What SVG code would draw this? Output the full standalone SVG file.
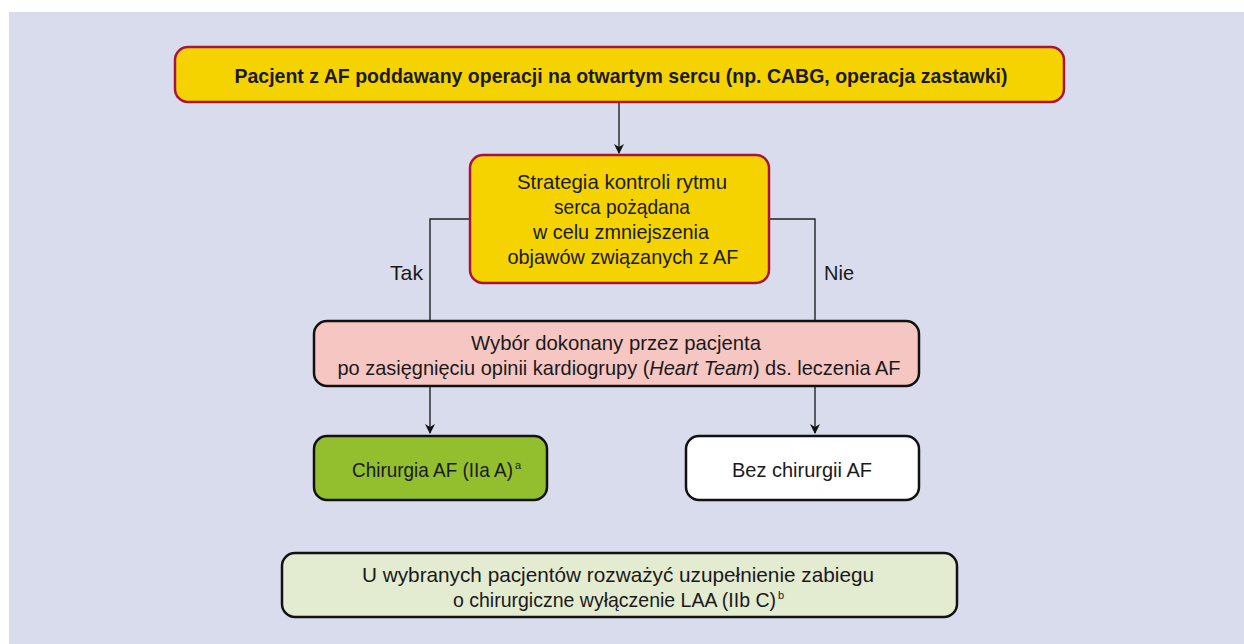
<svg xmlns="http://www.w3.org/2000/svg" width="1244" height="644" viewBox="0 0 1244 644">
<defs>
<style>
text{font-family:"Liberation Sans",Arial,sans-serif;font-size:21px;fill:#1a1a1a}
.b{font-weight:bold}
.c{text-anchor:middle}
.sup{font-size:11px}
.red{stroke:#a8143c;stroke-width:2.5}
.blk{stroke:#111;stroke-width:2.5}
.con{fill:none;stroke:#222;stroke-width:1.4}
</style>
<marker id="ah" markerWidth="10" markerHeight="10" refX="9" refY="5" orient="auto" markerUnits="userSpaceOnUse">
<path d="M0,0 L10,5 L0,10 L3,5 Z" fill="#111"/>
</marker>
</defs>
<rect x="0" y="0" width="1244" height="644" fill="#fff"/>
<rect x="9" y="12" width="1235" height="632" fill="#d9dcec"/>
<g id="connectors">
<line class="con" x1="619" y1="102" x2="619" y2="153" marker-end="url(#ah)"/>
<polyline class="con" points="470,219 430,219 430,320"/>
<polyline class="con" points="769,219 815,219 815,320"/>
<line class="con" x1="430" y1="386" x2="430" y2="433" marker-end="url(#ah)"/>
<line class="con" x1="815" y1="386" x2="815" y2="433" marker-end="url(#ah)"/>
<text x="423" y="280" style="text-anchor:end" textLength="33" lengthAdjust="spacingAndGlyphs">Tak</text>
<text x="824" y="280" textLength="30" lengthAdjust="spacingAndGlyphs">Nie</text>
</g>
<g id="n1">
<rect class="red" x="175" y="47" width="889" height="55" rx="13" fill="#f5d300"/>
<text class="b c" x="621" y="83" textLength="773" lengthAdjust="spacingAndGlyphs">Pacjent z AF poddawany operacji na otwartym sercu (np. CABG, operacja zastawki)</text>
</g>
<g id="n2">
<rect class="red" x="470" y="155" width="299" height="128" rx="13" fill="#f5d300"/>
<text class="c" x="622" y="189" textLength="210" lengthAdjust="spacingAndGlyphs">Strategia kontroli rytmu</text>
<text class="c" x="622" y="214" textLength="136" lengthAdjust="spacingAndGlyphs">serca pożądana</text>
<text class="c" x="621" y="239" textLength="176" lengthAdjust="spacingAndGlyphs">w celu zmniejszenia</text>
<text class="c" x="623" y="264" textLength="231" lengthAdjust="spacingAndGlyphs">objawów związanych z AF</text>
</g>
<g id="n3">
<rect class="blk" x="314" y="321" width="605" height="65" rx="13" fill="#f6c6c2"/>
<text class="c" x="616" y="350" textLength="290" lengthAdjust="spacingAndGlyphs">Wybór dokonany przez pacjenta</text>
<text class="c" x="619" y="375" textLength="563" lengthAdjust="spacingAndGlyphs">po zasięgnięciu opinii kardiogrupy (<tspan font-style="italic">Heart Team</tspan>) ds. leczenia AF</text>
</g>
<g id="n4">
<rect class="blk" x="314" y="436" width="233" height="64" rx="13" fill="#93bf2f"/>
<text x="352" y="477" textLength="161" lengthAdjust="spacingAndGlyphs">Chirurgia AF (IIa A)</text>
<text class="sup" x="515" y="469">a</text>
</g>
<g id="n5">
<rect class="blk" x="686" y="436" width="233" height="64" rx="13" fill="#ffffff"/>
<text class="c" x="802" y="477" textLength="140" lengthAdjust="spacingAndGlyphs">Bez chirurgii AF</text>
</g>
<g id="n6">
<rect class="blk" x="282" y="553" width="675" height="64" rx="13" fill="#e3ebd1"/>
<text class="c" x="618" y="582" textLength="512" lengthAdjust="spacingAndGlyphs">U wybranych pacjentów rozważyć uzupełnienie zabiegu</text>
<text x="453" y="607" textLength="323" lengthAdjust="spacingAndGlyphs">o chirurgiczne wyłączenie LAA (IIb C)</text>
<text class="sup" x="778" y="599">b</text>
</g>
</svg>
